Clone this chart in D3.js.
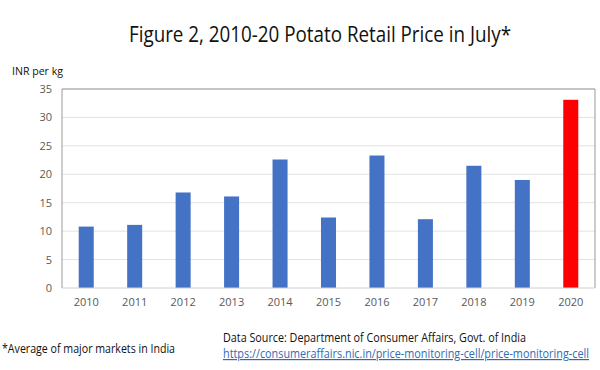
<!DOCTYPE html>
<html>
<head>
<meta charset="utf-8">
<script src="https://cdn.jsdelivr.net/npm/d3@7"></script>
<style>
  body { margin: 0; background: #fff; }
  svg { font-family: "Open Sans", "Noto Sans", sans-serif; }
</style>
</head>
<body>
<svg width="600" height="370"></svg>
<script>
var years = ['2010', '2011', '2012', '2013', '2014', '2015', '2016', '2017', '2018', '2019', '2020'];
var prices = [10.8, 11.1, 16.8, 16.1, 22.6, 12.4, 23.3, 12.1, 21.5, 19.0, 33.1];
var yTicks = [0, 5, 10, 15, 20, 25, 30, 35];

var plotLeft = 62, plotRight = 595, plotTop = 89, plotBottom = 288;

var svg = d3.select('svg');

var x = d3.scaleBand().domain(years).range([plotLeft, plotRight]);
var y = d3.scaleLinear().domain([0, 35]).range([plotBottom, plotTop]);

// title
svg.append('text')
	.attr('x', 129).attr('y', 42)
	.attr('textLength', 382)
	.attr('lengthAdjust', 'spacingAndGlyphs')
	.style('font-size', '21px')
	.style('fill', '#111')
	.text('Figure 2, 2010-20 Potato Retail Price in July*');

// y axis label
svg.append('text')
	.attr('x', 12).attr('y', 75)
	.attr('textLength', 51)
	.attr('lengthAdjust', 'spacingAndGlyphs')
	.style('font-size', '11.5px')
	.style('fill', '#111')
	.text('INR per kg');

// gridlines
svg.append('g')
	.selectAll('line')
	.data(yTicks.slice(1))
	.enter()
	.append('line')
	.attr('x1', plotLeft).attr('x2', plotRight)
	.attr('y1', function(d) {return y(d);})
	.attr('y2', function(d) {return y(d);})
	.style('stroke', '#e2e2e2');

// frame (left, top, right)
svg.append('path')
	.attr('d', 'M' + plotLeft + ',' + plotBottom + 'V' + plotTop + 'H' + plotRight + 'V' + plotBottom)
	.style('fill', 'none')
	.style('stroke', '#9a9a9a');

// y ticks
var yAxis = svg.append('g')
	.attr('transform', 'translate(' + (plotLeft - 10) + ',0)')
	.call(d3.axisLeft(y).tickValues(yTicks).tickSize(0).tickPadding(0));
yAxis.select('.domain').remove();
yAxis.selectAll('text').style('font-size', '11px').style('fill', '#595959').style('font-family', '"Open Sans", sans-serif');

// bars
var bw = x.bandwidth() * 0.31;
svg.append('g')
	.selectAll('rect')
	.data(years)
	.enter()
	.append('rect')
	.attr('x', function(d) {return x(d) + x.bandwidth() / 2 - bw / 2;})
	.attr('width', bw)
	.attr('y', function(d, i) {return y(prices[i]);})
	.attr('height', function(d, i) {return plotBottom - y(prices[i]);})
	.style('fill', function(d) {return d == '2020' ? '#ff0000' : '#4472c4';});

// x axis
var xAxis = svg.append('g')
	.attr('transform', 'translate(0,' + plotBottom + ')')
	.call(d3.axisBottom(x).tickSize(0).tickPadding(10));
xAxis.select('.domain').attr('d', 'M' + plotLeft + ',0H' + plotRight).style('stroke', '#d0d0d0');
xAxis.selectAll('text').style('font-size', '11px').style('fill', '#595959').style('font-family', '"Open Sans", sans-serif');

// footnotes
svg.append('text')
	.attr('x', 2).attr('y', 353)
	.attr('textLength', 173)
	.attr('lengthAdjust', 'spacingAndGlyphs')
	.style('font-size', '12.5px')
	.style('fill', '#111')
	.text('*Average of major markets in India');

svg.append('text')
	.attr('x', 223).attr('y', 342)
	.attr('textLength', 303)
	.attr('lengthAdjust', 'spacingAndGlyphs')
	.style('font-size', '12px')
	.style('fill', '#111')
	.text('Data Source: Department of Consumer Affairs, Govt. of India');

svg.append('text')
	.attr('x', 223).attr('y', 358)
	.attr('textLength', 366)
	.attr('lengthAdjust', 'spacingAndGlyphs')
	.style('font-size', '12px')
	.style('fill', '#2e6bb5')
	.style('text-decoration', 'underline')
	.text('https://consumeraffairs.nic.in/price-monitoring-cell/price-monitoring-cell');
</script>
</body>
</html>
